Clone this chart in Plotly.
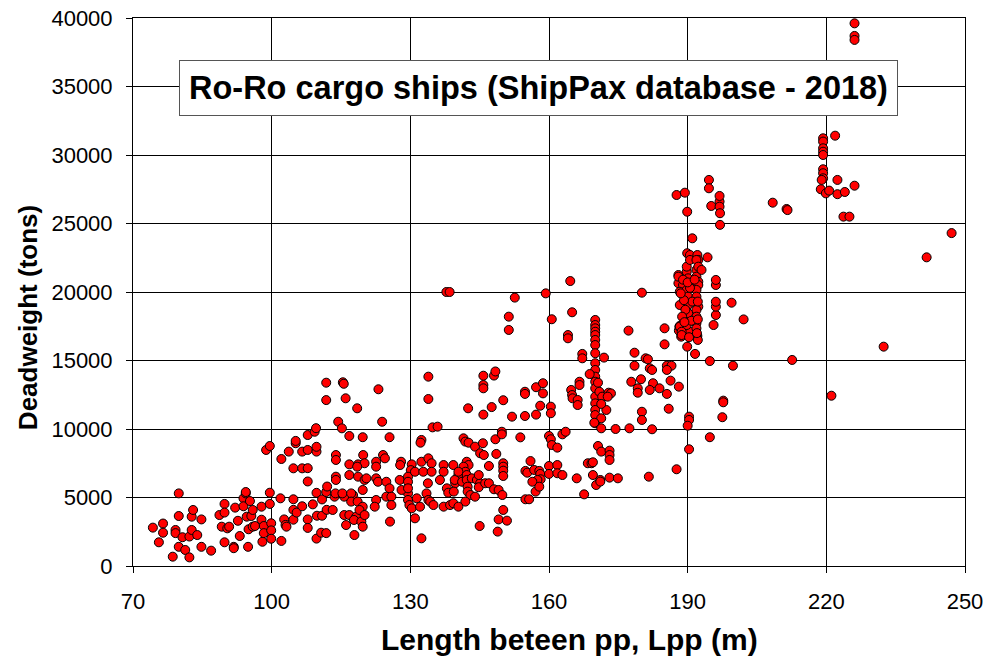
import plotly.graph_objects as go

# Ship data: (Lpp [m], Deadweight [t])
ships_under_100m = [
    (79.9,5300),(74.3,2800),(76.5,3100),(76.5,2430),(75.6,1730),(78.6,680),(79.2,2630),(79.2,2400),
    (79.9,3650),(79.9,1400),(80.7,2100),(81.3,1170),(82.2,630),(82.2,2150),(82.7,2630),(82.7,3600),
    (83.0,4090),(83.9,2260),(84.8,3400),(84.8,1400),(86.9,1120),(88.7,3720),(89.2,2870),(89.8,4530),
    (89.8,3900),(89.8,1730),(90.4,2750),(90.8,2870),(91.8,1400),(91.8,1300),(92.1,4260),(92.7,3300),
    (93.1,2190),(93.9,4940),(93.9,4360),(94.4,5300),(94.4,5400),(94.6,3600),(94.9,1400),(95.0,2680),
    (95.3,4740),(95.6,3650),(95.9,4090),(95.9,2870),(96.4,2920),(97.8,4330),(97.8,3380),(98.0,1770),
    (98.3,2920),(98.3,2400),(98.8,8470),(99.6,8760),(99.6,5350),(99.6,4530),(99.9,3120),(99.9,2600),
    (99.9,1990),
]

ships_100_113m = [
    (101.9,4940),(102.1,1830),(102.1,7810),(102.7,3400),(103.0,3000),(103.2,2870),(103.7,8350),
    (104.7,7130),(104.7,4870),(104.7,4100),(104.7,3380),(105.2,8960),(105.2,9130),(105.4,3900),
    (106.6,7130),(106.6,8350),(106.6,4360),(107.8,9560),(107.8,8470),(107.8,3400),(107.8,2780),
    (107.8,6170),(107.8,7140),(108.9,4500),(109.3,9800),(109.6,10060),(109.7,8350),(109.7,8700),
    (109.7,5340),(109.7,2000),(109.8,3670),(110.7,2430),(110.9,4860),(110.9,3670),(111.8,13380),
    (111.8,12110),(111.8,5400),(111.8,2400),(111.9,4100),(112.0,5800),
]

ships_113_160m_upper = [
    (137.8,20000),(138.5,20000),(152.6,19590),(159.3,19900),(151.3,18200),(151.3,17230),
    (115.4,13410),(115.6,13300),(116.0,12240),(123.1,12900),(118.5,11510),(114.4,10530),(115.2,10050),
    (123.9,10530),(133.9,13820),(133.9,12190),(134.8,10120),(135.9,10170),
    (145.8,13890),(145.8,13210),(145.8,12970),(148.1,13900),(148.4,14200),(147.6,11600),(145.8,11050),
    (150.1,12100),(152.0,10900),(142.5,11510),(154.8,12720),(154.8,12560),(154.8,10950),(157.2,13050),
    (157.2,11050),(158.7,13340),(158.7,12600),(158.1,11700),(160.4,11630),(160.4,11150),
]

ships_113_141m_lower = [
    (116.8,9490),(119.7,9400),(125.5,9400),(132.4,9200),(132.2,9000),
    (113.9,8100),(113.9,7740),(116.8,7420),(118.7,7420),(119.8,8100),(120.1,7500),(122.6,7610),
    (122.6,7250),(124.1,8100),(124.5,7860),(128.0,7610),(130.3,7420),(132.4,7610),(133.9,7860),
    (134.6,7500),(137.2,7370),(137.2,6880),(139.3,7370),(140.4,6640),(118.5,7250),(127.8,7370),
    (130.1,7000),(113.9,6520),(113.9,6280),(116.8,6640),(118.7,6520),(120.1,6280),(120.5,6400),
    (119.7,5550),(122.6,6400),(123.0,6150),(124.8,6150),(125.5,5670),(127.7,6280),(129.5,6520),
    (129.5,6150),(129.5,5300),(131.0,6880),(132.8,6880),(134.6,6880),(136.4,6280),(137.9,5670),
    (139.7,6040),(133.8,6040),(139.6,6280),(113.6,5060),(113.8,5300),(115.7,5060),(115.3,5300),
    (117.6,5180),(117.2,5300),(117.2,4700),(118.6,4700),(119.7,4330),(122.6,4820),(122.3,4330),
    (124.8,5060),(125.9,5060),(125.9,4450),(128.1,5550),(129.5,5670),(129.5,4820),(129.8,4450),
    (131.4,4940),(130.3,4210),(132.1,4330),(133.5,5300),(133.9,4820),(134.3,4700),(135.0,4450),
    (137.2,4330),(138.2,5350),(138.6,4450),(139.3,4580),(139.4,5430),(115.7,3720),(116.8,3720),
    (116.1,2990),(118.3,3600),(117.8,3360),(119.0,4090),(119.4,3240),(120.1,3720),(117.9,2260),
    (119.7,2870),(125.6,3240),(131.0,3480),(132.4,2020),(113.2,4090),
]

ships_141_168m_lower = [
    (141.5,9320),(141.9,9080),(142.6,9000),(144.0,8710),(145.7,8960),(148.4,9250),(149.8,9800),
    (149.8,9610),(153.8,9390),(160.0,9490),(160.4,9250),(160.6,8830),(161.8,8640),(162.9,9610),
    (163.6,9800),(145.1,8230),(145.9,8100),(148.6,8180),(147.0,7300),(142.2,7610),(142.6,7370),
    (141.5,7250),(141.9,6880),(140.4,6880),(142.2,6640),(141.2,6150),(142.2,6280),(143.3,6400),
    (144.4,6280),(145.1,6040),(144.8,5750),(146.2,6040),(147.0,6040),(148.1,5600),(149.1,5550),
    (149.9,5180),(142.4,5790),(142.4,5430),(144.8,6640),(150.1,7500),(150.1,7250),(150.1,6960),
    (150.1,6570),(143.0,5180),(144.0,5060),(141.9,4700),(140.4,4330),(150.1,4090),(149.1,3400),
    (150.9,3310),(148.9,2510),(145.0,2920),(154.9,6940),(155.3,6810),(156.0,7660),(156.8,7010),
    (157.9,6940),(158.1,6720),(158.2,6330),(157.5,6280),(156.4,6150),(157.1,5430),(157.9,5790),
    (154.9,4870),(155.7,4870),(160.0,7300),(161.8,7370),(160.0,6720),(161.8,6770),(162.9,6640),
    (166.0,6400),(167.6,5230),(168.4,7500),
]

ships_158_202m = [
    (160.6,18010),(164.6,20800),(165.0,18520),(164.1,16860),(164.1,16620),(167.2,15480),(167.2,15160),
    (170.0,17960),(170.0,17590),(170.0,17350),(170.0,17100),(170.0,16860),(170.0,16500),(170.0,16130),
    (170.0,15530),(170.0,14800),(170.0,14310),(170.0,13820),(170.0,13450),(170.0,12970),(170.0,12360),
    (170.0,11870),(170.0,11390),(170.0,11020),(170.0,10420),
    (171.9,15210),(168.8,14010),(170.6,13380),(166.6,13450),(166.6,13210),(164.8,12850),(165.0,12480),
    (165.1,12240),(166.2,12120),(166.2,11750),(170.9,12720),(171.5,12360),(172.4,11390),(171.3,10780),
    (169.8,10460),(171.3,11830),(172.9,12650),(173.4,12600),(172.7,12360),
    (171.3,10050),(174.4,10000),(177.4,10050),
    (169.2,7500),(169.5,7570),(170.6,8760),(171.3,8350),(173.1,8420),(173.1,8100),(173.1,7740),
    (169.5,6640),(170.2,5910),(171.1,6280),(171.1,6160),(173.1,6450),(174.9,6400),(181.6,6520),
    (177.2,17180),(180.1,19950),(178.5,15570),(178.5,14620),(177.8,13450),(179.9,13630),(179.2,12970),
    (179.2,12650),(180.1,11260),(180.1,10660),
    (180.9,15160),(181.4,15090),(181.8,14430),(182.3,14310),(182.5,13340),(181.8,12850),(183.9,12970),
    (188.1,13090),(185.5,14620),(186.5,14620),(185.5,14310),(186.3,13530),(185.5,12560),(185.9,11480),
    (182.3,9980),(185.0,17350),(185.0,16180),(188.1,17180),(188.6,16740),(188.2,17470),(188.4,17550),
    (190.5,17100),(192.1,16790),(189.9,16010),(191.6,15480),
    (187.6,7060),(190.3,10900),(190.3,10660),(190.0,10240),(190.3,8520),(194.8,9400),(197.5,10860),
    (197.7,12070),(197.7,11950),(194.8,14960),(199.8,14620),(202.1,18000),(199.5,19220),(195.6,17590),
    (196.1,18320),(196.1,18930),(196.1,19290),(196.1,20510),(196.1,20880),
    (189.9,25860),(195.1,26280),(196.9,26600),(196.9,26230),(197.0,25750),(197.0,24900),(196.9,27010),
    (194.6,28180),(194.6,27570),(187.6,27080),(189.4,27250),
    (191.0,23920),(189.9,22830),(190.5,22700),(192.1,22700),(192.3,22340),(194.3,22530),
]

ships_190m_cluster = [
    (188.0,21240),(189.8,21480),(191.9,21610),(190.1,21000),(191.9,21120),(192.3,20750),(188.0,20640),
    (189.0,20510),(190.9,20440),(192.3,20510),(188.3,20020),(189.8,20150),(191.9,20150),(190.1,19660),
    (191.9,19660),(188.3,19050),(190.1,19050),(192.3,18930),(191.9,18690),(190.1,18450),(191.9,18200),
    (188.3,17470),(189.8,17590),(191.9,17720),(188.7,17100),(191.9,17350),(188.7,16860),
    (191.9,16860),(188.0,21120),(189.8,21850),(190.5,22340),(191.9,22340),(192.3,21850),(193.0,21610),
    (189.0,20900),(190.5,20300),(191.0,19300),(189.2,19400),(192.2,19300),(189.5,18700),(188.8,18200),
    (190.8,17900),(192.2,18000),(188.5,19900),(190.0,20700),(191.5,20900),(189.3,17800),(190.3,16700),
    (192.2,16500),(192.0,17000),
]

ships_over_205m = [
    (226.1,39610),(226.1,38690),(226.1,38400),(219.3,31220),(219.3,30980),(219.3,30490),(219.3,30240),
    (219.3,30000),(221.9,31410),(219.3,28960),(219.3,28670),(219.3,28300),(219.0,28180),(222.4,28180),
    (226.1,27760),(218.8,27500),(219.9,27200),(220.6,27400),(222.4,27140),(224.0,27300),(223.7,25500),
    (225.0,25500),(208.4,26520),(211.4,26060),(211.6,25980),(247.1,24300),(241.7,22530),(232.4,16010),
    (212.6,15040),(221.1,12430),
]

x_ticks = [70, 100, 130, 160, 190, 220, 250]
y_ticks = [0, 5000, 10000, 15000, 20000, 25000, 30000, 35000, 40000]
title_text = "Ro-Ro cargo ships (ShipPax database - 2018)"
x_title = "Length beteen pp, Lpp (m)"
y_title = "Deadweight (tons)"

all_ships = (ships_under_100m + ships_100_113m + ships_113_160m_upper + ships_113_141m_lower
             + ships_141_168m_lower + ships_158_202m + ships_190m_cluster + ships_over_205m)
lpp = [p[0] for p in all_ships]
dwt = [p[1] for p in all_ships]

fig = go.Figure(go.Scatter(
    x=lpp, y=dwt, mode="markers",
    marker=dict(size=9, color="#FF0000", line=dict(color="black", width=1)),
    showlegend=False, hoverinfo="x+y",
))

regular = "Liberation Sans, Arial, sans-serif"

fig.update_layout(
    width=987, height=661,
    margin=dict(l=133, r=22, t=18, b=95),
    paper_bgcolor="white", plot_bgcolor="white",
    xaxis=dict(
        range=[70, 250], tickvals=x_ticks, ticktext=[str(v) for v in x_ticks],
        automargin=False,
        showgrid=True, gridcolor="black", gridwidth=1,
        showline=True, linecolor="black", linewidth=1, mirror=True,
        ticks="outside", ticklen=6, tickcolor="black", ticklabelstandoff=10,
        ticklabeloverflow="allow",
        tickfont=dict(family=regular, size=22, color="black"),
        zeroline=False,
    ),
    yaxis=dict(
        range=[0, 40000], tickvals=y_ticks, ticktext=[str(v) for v in y_ticks],
        automargin=False,
        showgrid=True, gridcolor="black", gridwidth=1,
        showline=True, linecolor="black", linewidth=1, mirror=True,
        ticks="outside", ticklen=6, tickcolor="black", ticklabelstandoff=9,
        ticklabeloverflow="allow",
        tickfont=dict(family=regular, size=22, color="black"),
        zeroline=False,
    ),
    annotations=[
        dict(
            text="<b>" + title_text + "</b>",
            xref="paper", yref="paper", x=0.4874, y=0.872, xanchor="center", yanchor="middle",
            showarrow=False, bgcolor="white", bordercolor="#555555", borderwidth=1, borderpad=9,
            font=dict(family=regular, size=32.5, color="black"),
        ),
        dict(
            text="<b>" + x_title + "</b>",
            xref="paper", yref="paper", x=0.525, y=-0.135, xanchor="center", yanchor="middle",
            showarrow=False, font=dict(family=regular, size=30, color="black"),
        ),
        dict(
            text="<b>" + y_title + "</b>", textangle=-90,
            xref="paper", yref="paper", x=-0.126, y=0.4526, xanchor="center", yanchor="middle",
            showarrow=False, font=dict(family=regular, size=26, color="black"),
        ),
    ],
)

# Remove the browser's default body margin so the figure sits at the window's top-left corner.
fig.write_html("out.html", config={"displayModeBar": False},
               post_script="document.body.style.margin='0px';")
